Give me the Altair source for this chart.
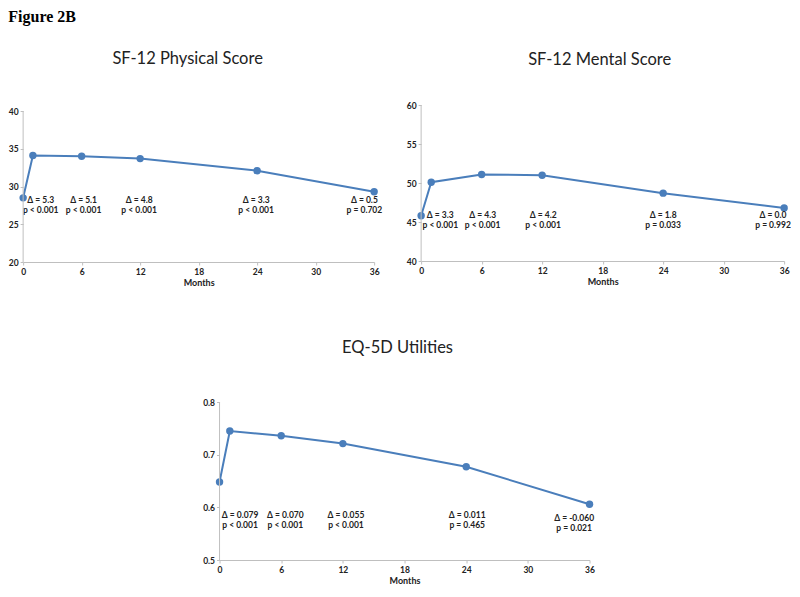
import altair as alt
import pandas as pd

months = [0, 1, 6, 12, 24, 36]

phys_vals = [28.5, 34.1, 34.0, 33.7, 32.1, 29.3]
phys_lab_x = [1.8, 6.2, 11.9, 23.9, 35.0]
phys_lab_y = [28.2, 28.2, 28.2, 28.2, 28.2]
phys_labels = ["Δ = 5.3\np < 0.001", "Δ = 5.1\np < 0.001", "Δ = 4.8\np < 0.001",
               "Δ = 3.3\np < 0.001", "Δ = 0.5\np = 0.702"]

ment_vals = [45.8, 50.1, 51.1, 51.0, 48.7, 46.8]
ment_lab_x = [1.9, 6.1, 12.1, 24.0, 34.9]
ment_lab_y = [45.9, 45.9, 45.9, 45.9, 45.9]
ment_labels = ["Δ = 3.3\np < 0.001", "Δ = 4.3\np < 0.001", "Δ = 4.2\np < 0.001",
               "Δ = 1.8\np = 0.033", "Δ = 0.0\np = 0.992"]

eq_vals = [0.648, 0.745, 0.736, 0.721, 0.677, 0.606]
eq_lab_x = [2.0, 6.4, 12.3, 24.1, 34.5]
eq_lab_y = [0.585, 0.585, 0.585, 0.585, 0.580]
eq_labels = ["Δ = 0.079\np < 0.001", "Δ = 0.070\np < 0.001", "Δ = 0.055\np < 0.001",
             "Δ = 0.011\np = 0.465", "Δ = -0.060\np = 0.021"]

x_ticks = [0, 6, 12, 18, 24, 30, 36]

BLUE = "#4a7ebb"
AXC = "#bfbfbf"
FONT = "Lato"


def panel(title, vals, lab_x, lab_y, labels, ydom, ytop, yticks, yfmt, w, h, toff, tdx):
    df = pd.DataFrame({"m": months, "v": vals})
    lf = pd.DataFrame({"m": lab_x, "v": lab_y, "t": labels})
    af = pd.DataFrame({"lo": [ydom[0]], "hi": [ydom[1]]})
    x = alt.X("m:Q", scale=alt.Scale(domain=[0, 36], nice=False),
              axis=alt.Axis(values=x_ticks, tickCount=20, title="Months", format="d",
                            labelOverlap=False, labelFlush=False))
    y = alt.Y("v:Q", scale=alt.Scale(domain=[ydom[0], ytop], nice=False),
              axis=alt.Axis(values=yticks, tickCount=20, title=None, format=yfmt, domain=False,
                            labelOverlap=False, labelFlush=False, labelBound=False))
    yaxis_line = alt.Chart(af).mark_rule(color=AXC, strokeWidth=1).encode(
        x=alt.value(0), y=alt.Y("lo:Q"), y2="hi:Q")
    line = alt.Chart(df).mark_line(color=BLUE, strokeWidth=2).encode(x=x, y=y)
    pts = alt.Chart(df).mark_circle(color=BLUE, size=55, opacity=1).encode(x=x, y=y)
    txt = alt.Chart(lf).mark_text(font=FONT, fontSize=8.5, fontWeight="bold", color="#222222",
                                  lineBreak="\n", lineHeight=10, baseline="middle").encode(
        x=x, y=y, text="t:N")
    return alt.layer(line, pts, txt, yaxis_line).properties(
        width=w, height=h,
        title=alt.TitleParams(title, font=FONT, fontSize=16.5, fontWeight="normal",
                              color="#222222", offset=toff, anchor="middle", dx=tdx))


# p1 plot area extends ~6px above the "40" tick so its axis sits lower than p2's
p1 = panel("SF-12 Physical Score", phys_vals, phys_lab_x, phys_lab_y, phys_labels,
           [20, 40], 40.8, [20, 25, 30, 35, 40], "d", 351, 157, 38, -11)
p2 = panel("SF-12 Mental Score", ment_vals, ment_lab_x, ment_lab_y, ment_labels,
           [40, 60], 60, [40, 45, 50, 55, 60], "d", 363, 156, 33, -3)
p3 = panel("EQ-5D Utilities", eq_vals, eq_lab_x, eq_lab_y, eq_labels,
           [0.5, 0.8], 0.8, [0.5, 0.6, 0.7, 0.8], ".1f", 370, 158, 42, -7)

row1 = alt.hconcat(p1, p2, spacing=23)
chart = alt.vconcat(row1, p3, spacing=51, center=True).properties(
    padding=0,
    title=alt.TitleParams("Figure 2B", font="Liberation Serif", fontSize=16, fontWeight="bold",
                          color="#000000", anchor="start", offset=26)
).configure_view(stroke=None).configure_axis(
    grid=False, domainColor=AXC, tickColor=AXC, tickSize=3,
    labelFont=FONT, labelFontSize=8.5, labelFontWeight="bold", labelColor="#222222",
    titleFont=FONT, titleFontSize=9, titleFontWeight="bold", titleColor="#222222",
    labelPadding=2, titlePadding=3, labelOverlap=False, labelFlush=False
)

chart.save("out.html", embed_options={"renderer": "svg", "actions": False})
